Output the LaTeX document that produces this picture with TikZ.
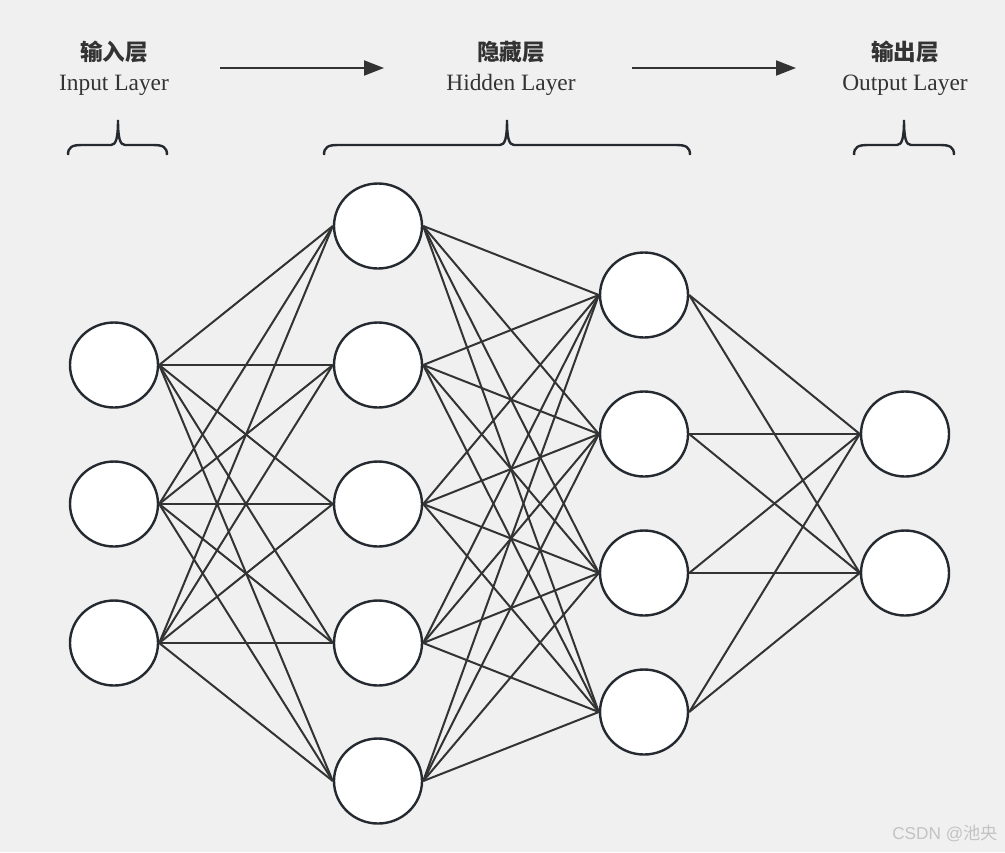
\documentclass[tikz,border=0pt]{standalone}
\usepackage{fontspec}
\setmainfont{Liberation Serif}
\newfontfamily\cjkfont{Noto Sans CJK SC}
\newfontfamily\markfont{Liberation Sans}
\usetikzlibrary{arrows.meta,shapes.geometric}
\definecolor{nnbg}{RGB}{240,240,240}
\definecolor{nnline}{RGB}{51,51,51}
\definecolor{nnring}{RGB}{37,42,48}
\definecolor{nntext}{RGB}{51,51,51}
\definecolor{nnmark}{RGB}{195,195,195}

\begin{document}
\begin{tikzpicture}[x=0.5pt, y=-0.5pt,
  neuron/.style={ellipse, draw=nnring, fill=white, line width=1.2pt, minimum width=44pt, minimum height=42.5pt, inner sep=0pt},
  conn/.style={draw=nnline, line width=1pt},
  arr/.style={-{Triangle[length=10pt, width=7.5pt]}, line width=1pt, nnline},
  title/.style={font=\cjkfont\bfseries\fontsize{11.3}{13}\selectfont, text=nntext, inner sep=0pt},
  sub/.style={font=\fontsize{11.7}{13}\selectfont, text=nntext, inner sep=0pt},
  brace/.style={draw=nnring, line width=1.2pt}]
\fill[nnbg] (0,0) rectangle (1005,852);
% headings
\node[title] (intitle) at (114,52) {输入层};
\node[sub] (insub) at (114,85) {Input Layer};
\node[title] (hidtitle) at (511,52) {隐藏层};
\node[sub] (hidsub) at (511,85) {Hidden Layer};
\node[title] (outtitle) at (905,52) {输出层};
\node[sub] (outsub) at (905,85) {Output Layer};
\coordinate (a1s) at (220,68); \coordinate (a1e) at (384,68);
\coordinate (a2s) at (632,68); \coordinate (a2e) at (796,68);
\draw[arr] (a1s) -- (a1e);
\draw[arr] (a2s) -- (a2e);
% braces over the layers
\foreach \xa/\xm/\xb in {68/118/167, 324/507/690, 854/904/954}
  \draw[brace] (\xa,155) .. controls (\xa,147) and (\xa+4,145) .. (\xa+14,145) -- (\xm-7,145)
    .. controls (\xm-2,145) and (\xm,138) .. (\xm,120) .. controls (\xm,138) and (\xm+2,145) .. (\xm+7,145)
    -- (\xb-14,145) .. controls (\xb-4,145) and (\xb,147) .. (\xb,155);
% neurons
\foreach \y [count=\i] in {365,504,643}
  \node[neuron] (in\i) at (114,\y) {};
\foreach \y [count=\i] in {226,365,504,643,781}
  \node[neuron] (ha\i) at (378,\y) {};
\foreach \y [count=\i] in {295,434,573,712}
  \node[neuron] (hb\i) at (644,\y) {};
\foreach \y [count=\i] in {434,573}
  \node[neuron] (out\i) at (905,\y) {};
% full connections
\foreach \i in {1,...,3} \foreach \j in {1,...,5}
  \draw[conn] (in\i.east) -- (ha\j.west);
\foreach \i in {1,...,5} \foreach \j in {1,...,4}
  \draw[conn] (ha\i.east) -- (hb\j.west);
\foreach \i in {1,...,4} \foreach \j in {1,...,2}
  \draw[conn] (hb\i.east) -- (out\j.west);
\node[font=\markfont\fontsize{8.6}{10}\selectfont, text=nnmark] (mark) at (945,833) {CSDN @{\cjkfont 池央}};
\end{tikzpicture}
\end{document}
